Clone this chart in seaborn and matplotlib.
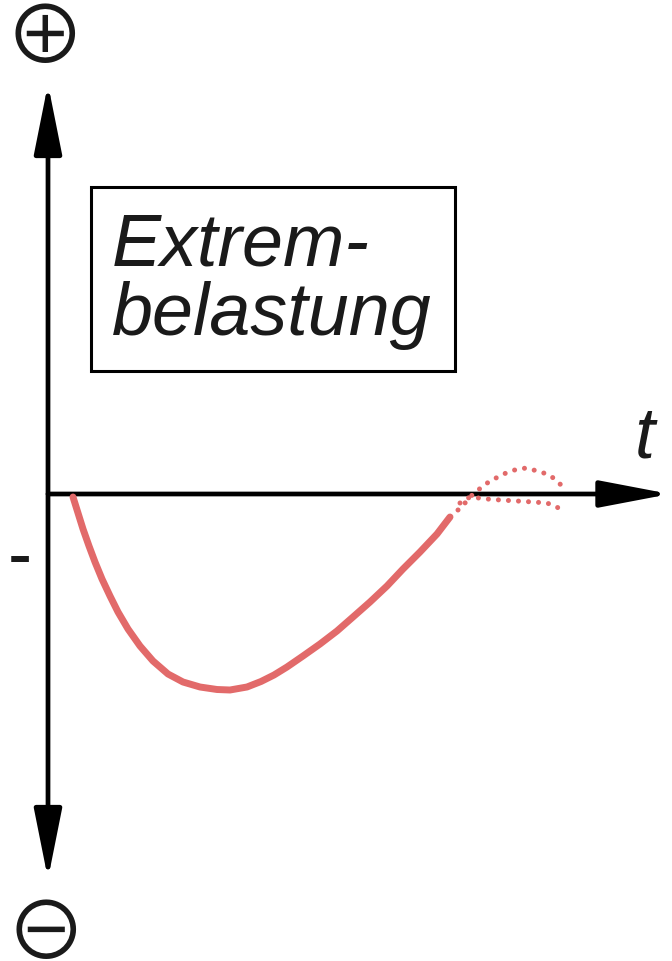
import matplotlib
matplotlib.use("Agg")
import matplotlib.pyplot as plt
from matplotlib.patches import Rectangle
import seaborn as sns
import pandas as pd

sns.set_style("white")

# Main load curve (solid part)
t_main = [0.25, 0.30, 0.35, 0.41, 0.47, 0.54, 0.62, 0.70, 0.80, 0.92, 1.05, 1.20,
          1.35, 1.52, 1.69, 1.82, 1.99, 2.13, 2.26, 2.39, 2.55, 2.72, 2.89, 3.05,
          3.22, 3.39, 3.55, 3.72, 3.89, 4.02]
s_main = [-0.03, -0.19, -0.35, -0.52, -0.68, -0.85, -1.02, -1.18, -1.35, -1.52,
          -1.67, -1.80, -1.88, -1.93, -1.955, -1.96, -1.93, -1.875, -1.81, -1.73,
          -1.62, -1.50, -1.37, -1.23, -1.08, -0.92, -0.75, -0.58, -0.40, -0.23]

# Possible continuations (dotted): overshoot above the axis and creeping below it
t_up = [4.10, 4.19, 4.25, 4.34, 4.42, 4.52, 4.60, 4.70, 4.79, 4.89, 4.99, 5.07, 5.13]
s_up = [-0.16, -0.07, 0.00, 0.07, 0.13, 0.18, 0.22, 0.25, 0.26, 0.23, 0.20, 0.15, 0.09]
t_low = [4.12, 4.22, 4.39, 4.52, 4.69, 4.85, 4.99, 5.09, 5.15]
s_low = [-0.09, -0.03, -0.05, -0.06, -0.07, -0.08, -0.09, -0.13, -0.18]

box_label = "Extrem-\nbelastung"
time_label = "t"
plus_sign = "\u2295"
minus_sign = "\u2296"
side_label = "-"

red = "#e26a6a"
ink = "#1a1a1a"

fig = plt.figure(figsize=(6.72, 9.62), dpi=100)
ax = fig.add_axes([0, 0, 1, 1])
ax.set_xlim(-0.48, 6.24)
ax.set_ylim(-4.67, 4.95)
ax.set_axis_off()

# Coordinate axes with arrow heads
ax.annotate("", xy=(0, 4.10), xytext=(0, -3.85),
            arrowprops=dict(arrowstyle="<|-|>,head_length=4.3,head_width=0.86",
                            mutation_scale=10, lw=3.4, color="black",
                            shrinkA=0, shrinkB=0))
ax.annotate("", xy=(6.22, 0), xytext=(0, 0),
            arrowprops=dict(arrowstyle="-|>,head_length=4.3,head_width=0.82",
                            mutation_scale=10, lw=3.4, color="black",
                            shrinkA=0, shrinkB=0))

df_main = pd.DataFrame({"t": t_main, "s": s_main})
df_up = pd.DataFrame({"t": t_up, "s": s_up})
df_low = pd.DataFrame({"t": t_low, "s": s_low})

sns.lineplot(data=df_main, x="t", y="s", sort=False, estimator=None,
             color=red, lw=5, ax=ax, solid_capstyle="round",
             solid_joinstyle="round", zorder=3)
for d in (df_up, df_low):
    sns.lineplot(data=d, x="t", y="s", sort=False, estimator=None,
                 color=red, lw=3.6, ax=ax, linestyle=(0, (0.01, 2.0)),
                 dash_capstyle="round", zorder=3)

# Label box
ax.add_patch(Rectangle((0.43, 1.23), 3.64, 1.84, fill=False, lw=2.2,
                       edgecolor="black", zorder=2))
ax.text(0.64, 1.60, box_label, family="Liberation Sans", style="italic",
        fontsize=53, va="baseline", ha="left", linespacing=1.0, color=ink)

ax.text(5.97, 0.37, time_label, family="Liberation Sans", style="italic",
        fontsize=52, va="baseline", ha="center", color=ink)
ax.text(-0.28, -0.83, side_label, family="Liberation Sans",
        fontsize=52, va="baseline", ha="center", color=ink)

sym_fonts = ["Noto Sans CJK JP", "DejaVu Sans"]
ax.text(-0.03, 4.63, plus_sign, family=sym_fonts, fontsize=58,
        va="center_baseline", ha="center", color=ink)
ax.text(-0.02, -4.33, minus_sign, family=sym_fonts, fontsize=58,
        va="center_baseline", ha="center", color=ink)

fig.savefig("out.png", dpi=100)
